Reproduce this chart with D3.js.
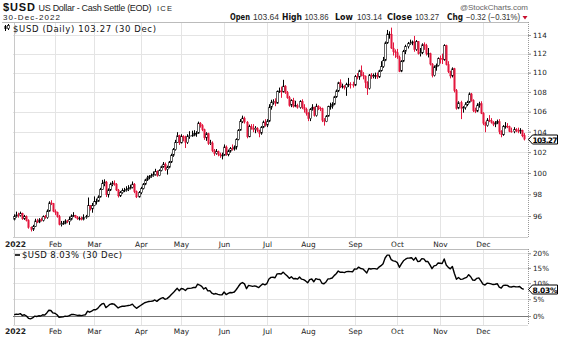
<!DOCTYPE html>
<html><head><meta charset="utf-8">
<script src="https://cdn.jsdelivr.net/npm/d3@7"></script>
<style>body{margin:0;background:#fff}svg{display:block}</style>
</head><body><svg id="c" width="561" height="337"></svg>
<script>
// ---------- DATA ----------
const tradingDays = [
 [3,4,5,6,7,10,11,12,13,14,18,19,20,21,24,25,26,27,28,31],
 [1,2,3,4,7,8,9,10,11,14,15,16,17,18,22,23,24,25,28],
 [1,2,3,4,7,8,9,10,11,14,15,16,17,18,21,22,23,24,25,28,29,30,31],
 [1,4,5,6,7,8,11,12,13,14,18,19,20,21,22,25,26,27,28,29],
 [2,3,4,5,6,9,10,11,12,13,16,17,18,19,20,23,24,25,26,27,31],
 [1,2,3,6,7,8,9,10,13,14,15,16,17,21,22,23,24,27,28,29,30],
 [1,5,6,7,8,11,12,13,14,15,18,19,20,21,22,25,26,27,28,29],
 [1,2,3,4,5,8,9,10,11,12,15,16,17,18,19,22,23,24,25,26,29,30,31],
 [1,2,6,7,8,9,12,13,14,15,16,19,20,21,22,23,26,27,28,29,30],
 [3,4,5,6,7,10,11,12,13,14,17,18,19,20,21,24,25,26,27,28,31],
 [1,2,3,4,7,8,9,10,11,14,15,16,17,18,21,22,23,25,28,29,30],
 [1,2,5,6,7,8,9,12,13,14,15,16,19,20,21,22,23,27,28,29,30]
];
const monthLabels = ["2022","Feb","Mar","Apr","May","Jun","Jul","Aug","Sep","Oct","Nov","Dec"];
const priceTicks = [96,98,100,102,104,106,108,110,112,114];
const pctTicks = [0,5,10,15,20];

const open = [
 95.70,95.95,96.10,96.05,96.25,95.75,95.95,95.60,94.95,94.80,95.05,95.55,95.45,95.65,95.60,95.95,95.85,96.45,97.20,97.15,
 96.45,96.35,95.95,95.25,95.30,95.35,95.55,95.50,95.70,96.00,96.05,95.90,95.75,95.80,95.70,95.85,95.95,96.95,96.65,
 96.95,97.35,97.35,97.75,98.45,99.00,99.15,97.95,98.40,98.90,99.05,98.95,98.40,97.85,98.15,98.35,98.35,98.45,98.55,98.65,98.95,98.25,97.75,
 98.15,98.55,98.95,99.35,99.55,99.70,99.75,99.85,100.15,99.75,100.25,100.60,100.85,100.35,100.55,101.05,101.70,102.25,102.95,103.60,
 102.90,103.55,103.40,102.95,103.55,103.60,103.65,103.85,103.85,104.85,104.60,104.20,103.40,103.80,102.85,102.90,102.15,101.85,102.05,101.80,101.65,
 101.70,102.50,101.75,102.10,102.35,102.30,102.50,103.25,104.15,105.00,105.35,104.95,103.50,104.50,104.35,104.20,104.35,104.15,103.85,104.45,104.95,
 104.65,105.05,106.45,106.95,107.00,106.85,108.05,108.10,108.00,108.60,107.95,107.40,106.65,107.15,106.55,106.60,106.40,107.05,106.40,106.25,
 105.85,105.30,106.25,106.45,105.60,106.55,106.35,106.30,105.15,105.00,105.55,106.50,106.55,106.75,107.50,108.10,108.95,108.55,108.60,108.45,108.75,108.80,108.75,
 108.70,109.60,109.55,110.20,109.75,109.65,109.00,108.35,109.75,109.60,109.70,109.70,109.55,110.20,110.65,111.30,113.15,114.10,114.10,112.60,112.20,
 112.10,111.65,110.15,111.20,112.25,112.75,113.10,113.15,113.25,112.45,113.30,112.00,112.10,112.95,112.85,112.00,112.00,110.90,109.70,110.60,110.75,
 111.50,111.45,111.35,112.85,110.85,110.10,109.65,110.40,108.15,106.35,106.90,106.35,106.40,106.70,106.95,107.80,107.15,106.10,106.05,106.65,106.80,
 105.85,104.85,104.60,105.15,105.10,104.95,104.75,104.85,105.00,104.00,103.70,104.50,104.55,104.50,104.05,104.00,104.20,104.10,104.05,104.15,103.64
];
const high = [
 96.15,96.40,96.30,96.40,96.30,96.10,96.05,95.70,95.05,95.20,95.75,95.75,95.80,95.85,96.05,96.10,96.60,97.35,97.45,97.20,
 96.60,96.40,96.10,95.55,95.55,95.70,95.65,95.95,96.15,96.35,96.10,96.00,95.95,95.95,96.15,96.10,97.70,97.00,97.20,
 97.80,97.60,97.90,98.60,99.35,99.40,99.25,98.55,99.10,99.25,99.30,99.05,98.50,98.30,98.55,98.60,98.75,98.85,98.90,99.20,99.05,98.35,98.30,
 98.70,99.05,99.45,99.75,99.80,99.95,100.15,100.40,100.25,100.35,100.70,101.05,101.00,100.70,101.15,101.85,102.40,103.20,103.95,103.70,
 103.75,103.65,103.60,103.75,104.05,104.10,104.15,104.05,105.00,104.95,104.75,104.30,103.95,103.90,103.20,103.05,102.30,102.30,102.15,101.95,101.95,
 102.75,102.65,102.25,102.50,102.75,102.65,103.35,104.25,105.25,105.60,105.50,105.05,104.70,104.75,104.75,104.55,104.45,104.20,104.55,105.10,105.25,
 105.25,106.75,107.20,107.25,107.35,108.15,108.45,108.55,109.25,108.70,108.10,107.60,107.25,107.40,107.10,106.80,107.15,107.25,106.75,106.40,
 105.95,106.35,106.75,106.50,106.80,106.65,106.50,106.40,105.35,105.65,106.60,106.90,106.95,107.60,108.25,109.05,109.30,108.85,108.70,108.95,109.45,109.00,109.05,
 109.75,109.95,110.30,110.75,110.05,109.70,109.10,109.85,109.95,109.90,110.00,110.00,110.30,111.20,111.65,113.30,114.55,114.40,114.80,113.20,112.45,
 112.50,111.80,111.30,112.40,112.95,113.25,113.50,113.40,113.90,113.45,113.35,112.60,113.10,113.20,113.05,112.60,112.10,111.00,110.75,110.95,111.60,
 111.80,112.00,113.00,112.95,111.20,110.20,110.55,110.50,108.30,107.05,107.10,106.55,106.95,107.10,107.95,107.90,107.25,106.40,106.85,107.00,107.05,
 105.95,105.00,105.35,105.65,105.35,105.05,105.05,105.20,105.25,104.15,104.65,104.95,104.85,104.60,104.40,104.45,104.35,104.40,104.35,104.20,103.86
];
const low = [
 95.60,95.85,95.85,95.95,95.65,95.65,95.50,94.85,94.60,94.65,95.00,95.35,95.35,95.50,95.50,95.75,95.75,96.40,97.00,96.35,
 96.10,95.85,95.15,95.05,95.20,95.25,95.35,95.20,95.60,95.90,95.80,95.65,95.60,95.60,95.60,95.75,95.90,96.50,96.30,
 96.90,97.05,97.30,97.70,98.40,98.75,97.75,97.70,98.30,98.75,98.80,98.30,97.70,97.75,98.05,98.20,98.25,98.30,98.45,98.55,98.10,97.65,97.70,
 98.00,98.45,98.85,99.25,99.40,99.55,99.65,99.75,99.65,99.70,100.15,100.50,100.20,99.85,100.45,100.95,101.55,102.15,102.90,102.70,
 102.85,103.05,102.40,102.80,103.30,103.50,103.55,103.50,103.80,104.40,104.05,103.20,103.10,102.70,102.70,102.00,101.65,101.75,101.60,101.45,101.30,
 101.65,101.65,101.60,101.95,102.15,102.15,102.25,103.15,104.10,104.85,104.80,103.35,103.45,104.20,103.95,103.85,103.95,103.45,103.70,104.35,104.50,
 104.45,104.95,106.20,106.70,106.55,106.80,107.90,107.40,107.95,107.80,107.30,106.50,106.45,106.40,106.45,106.30,106.30,106.25,105.90,105.60,
 105.05,105.05,106.10,105.50,105.50,106.15,106.05,104.95,104.60,104.95,105.50,106.20,106.30,106.65,107.40,108.00,108.40,108.35,108.25,107.60,108.50,108.35,108.45,
 108.60,109.30,109.25,109.60,109.30,108.40,107.70,108.25,109.35,109.40,109.35,109.35,109.45,110.10,110.50,111.20,113.05,113.60,112.50,111.80,111.55,
 111.45,110.05,110.05,111.10,111.95,112.55,112.95,112.90,112.20,112.30,111.90,111.70,111.95,112.40,111.80,111.60,110.75,109.50,109.60,110.20,110.65,
 110.95,110.90,111.25,110.75,109.95,109.40,109.50,107.95,106.20,106.25,105.25,105.90,106.20,106.55,106.85,107.00,105.95,105.85,105.95,106.40,105.75,
 104.65,103.95,104.50,104.95,104.80,104.55,104.45,104.75,103.75,103.45,103.60,104.30,104.35,103.95,103.90,103.85,103.95,103.85,103.80,103.45,103.14
];
const close = [
 95.95,96.10,96.05,96.25,95.75,95.95,95.60,94.95,94.80,95.05,95.55,95.45,95.65,95.60,95.95,95.85,96.45,97.20,97.15,96.45,
 96.35,95.95,95.25,95.30,95.35,95.55,95.50,95.70,96.00,96.05,95.90,95.75,95.80,95.70,95.85,95.95,96.95,96.65,96.95,
 97.35,97.35,97.75,98.45,99.00,99.15,97.95,98.40,98.90,99.05,98.95,98.40,97.85,98.15,98.35,98.35,98.45,98.55,98.65,98.95,98.25,97.75,98.15,
 98.55,98.95,99.35,99.55,99.70,99.75,99.85,100.15,99.75,100.25,100.60,100.85,100.35,100.55,101.05,101.70,102.25,102.95,103.60,102.90,
 103.55,103.40,102.95,103.55,103.60,103.65,103.85,103.85,104.85,104.60,104.20,103.40,103.80,102.85,102.90,102.15,101.85,102.05,101.80,101.65,101.70,
 102.50,101.75,102.10,102.35,102.30,102.50,103.25,104.15,105.00,105.35,104.95,103.50,104.50,104.35,104.20,104.35,104.15,103.85,104.45,104.95,104.65,
 105.05,106.45,106.95,107.00,106.85,108.05,108.10,108.00,108.60,107.95,107.40,106.65,107.15,106.55,106.60,106.40,107.05,106.40,106.25,105.85,
 105.30,106.25,106.45,105.60,106.55,106.35,106.30,105.15,105.00,105.55,106.50,106.55,106.75,107.50,108.10,108.95,108.55,108.60,108.45,108.75,108.80,108.75,108.70,
 109.60,109.55,110.20,109.75,109.65,109.00,108.35,109.75,109.60,109.70,109.70,109.55,110.20,110.65,111.30,113.15,114.10,114.10,112.60,112.20,112.10,
 111.65,110.15,111.20,112.25,112.75,113.10,113.15,113.25,112.45,113.30,112.00,112.10,112.95,112.85,112.00,112.00,110.90,109.70,110.60,110.75,111.50,
 111.45,111.35,112.85,110.85,110.10,109.65,110.40,108.15,106.35,106.90,106.35,106.40,106.70,106.95,107.80,107.15,106.10,106.05,106.65,106.80,105.85,
 104.85,104.60,105.15,105.10,104.95,104.75,104.85,105.00,104.00,103.70,104.50,104.55,104.50,104.05,104.00,104.20,104.10,104.05,104.15,103.59,103.27
];
const pctChange = 8.03;      // bottom-panel legend value
const lastChange = -0.32, lastChangePct = -0.31;

// ---------- LAYOUT ----------
const svg = d3.select("#c");
const FONT = "'DejaVu Sans', Verdana, sans-serif";
const AFONT = "'Liberation Sans', Arial, sans-serif";
const RED = "#e3173e";
const n = close.length;
const dates = [];
tradingDays.forEach((days, m) => days.forEach(d => dates.push(new Date(2022, m, d))));
const monthStarts = dates.map((d, i) => (i === 0 || d.getMonth() !== dates[i - 1].getMonth()) ? i : -1).filter(i => i >= 0);

const P = {left: 13, right: 528, top: 22, bottom: 237};
const B = {left: 13, right: 528, top: 249, bottom: 325};
const x = d3.scaleLinear().domain([0, n - 1]).range([14.2, 523.7]);
const y = d3.scaleLog().domain([96, 114]).range([216, 35]);
const base = close[n - 1] / (1 + pctChange / 100);
const y2 = d3.scaleLog().domain([1, 1.2]).range([316, 253.3]);
const px = i => Math.round(x(i)) + 0.5;

// ---------- HEADER ----------
const hdr = svg.append("g");
hdr.append("text").attr("x", 3).attr("y", 11).attr("font-family", AFONT).attr("font-weight", "bold")
  .attr("font-size", 11).attr("textLength", 32).attr("fill", "#111").text("$USD");
hdr.append("text").attr("x", 38.5).attr("y", 10.8).attr("font-family", AFONT).attr("font-size", 9)
  .attr("textLength", 113).attr("fill", "#222").text("US Dollar - Cash Settle (EOD)");
hdr.append("text").attr("x", 157).attr("y", 10.8).attr("font-family", AFONT).attr("font-size", 7.5)
  .attr("textLength", 15).attr("fill", "#222").text("ICE");
hdr.append("text").attr("x", 3).attr("y", 19.5).attr("font-family", AFONT).attr("font-size", 8)
  .attr("textLength", 57).attr("fill", "#222").text(d3.timeFormat("%d-%b-%Y")(dates[n - 1]));
hdr.append("text").attr("x", 528).attr("y", 9.5).attr("text-anchor", "end").attr("font-family", AFONT)
  .attr("font-size", 8).attr("textLength", 68).attr("fill", "#666").text("@StockCharts.com");

const f2 = d3.format(".2f");
const ohlcItems = [
  ["Open", 230, 20, true], [f2(open[n - 1]), 253, 26, false],
  ["High", 282, 20, true], [f2(high[n - 1]), 304.5, 24, false],
  ["Low", 335, 18, true], [f2(low[n - 1]), 357, 25, false],
  ["Close", 387, 25, true], [f2(close[n - 1]), 415, 24, false],
  ["Chg", 447, 16, true], [f2(lastChange) + " (" + f2(lastChangePct) + "%)", 466, 54, false]
];
ohlcItems.forEach(([t, xx, len, bold]) => {
  hdr.append("text").attr("x", xx).attr("y", 19.5).attr("font-family", bold ? FONT : AFONT)
    .attr("font-weight", bold ? "bold" : "normal").attr("font-size", 8.5)
    .attr("textLength", len).attr("lengthAdjust", "spacingAndGlyphs").attr("fill", bold ? "#111" : "#333").text(t);
});
hdr.append("path").attr("d", "M522.5,16 L527.5,16 L525,19.5 Z").attr("fill", "#c8102e");

// ---------- MAIN PANEL ----------
const g = svg.append("g");
g.selectAll(".hg").data(priceTicks).join("line")
  .attr("x1", P.left).attr("x2", P.right + 3)
  .attr("y1", d => Math.round(y(d)) + 0.5).attr("y2", d => Math.round(y(d)) + 0.5)
  .attr("stroke", "#e4e4e4");
g.selectAll(".vg").data(monthStarts).join("line")
  .attr("x1", i => px(i)).attr("x2", i => px(i)).attr("y1", P.top).attr("y2", P.bottom)
  .attr("stroke", (i, k) => k === 0 ? "#c8c8c8" : "#e4e4e4");
g.append("line").attr("x1", 2).attr("x2", P.right).attr("y1", P.top + 0.5).attr("y2", P.top + 0.5).attr("stroke", "#bbb");
g.append("line").attr("x1", P.left).attr("x2", P.right).attr("y1", P.bottom + 0.5).attr("y2", P.bottom + 0.5).attr("stroke", "#ccc");
g.append("line").attr("x1", P.right + 0.5).attr("x2", P.right + 0.5).attr("y1", P.top).attr("y2", P.bottom)
  .attr("stroke", "#999").attr("stroke-dasharray", "1,1");

const ax = g.append("g").attr("transform", `translate(${P.right},0)`)
  .call(d3.axisRight(y).tickValues(priceTicks).tickFormat(d3.format("d")).tickSize(3).tickPadding(2));
ax.select(".domain").remove();
ax.selectAll("line").attr("stroke", "#999");
ax.selectAll("text").attr("font-family", FONT).attr("font-size", 7.2).attr("fill", "#222");

// candles
const cg = g.append("g");
d3.range(n).forEach(i => {
  const prev = i > 0 ? close[i - 1] : open[0];
  const col = close[i] >= prev ? "#000" : RED;
  const hollow = close[i] > open[i];
  const cx = px(i);
  cg.append("line").attr("x1", cx).attr("x2", cx)
    .attr("y1", y(Math.max(high[i], open[i], close[i]))).attr("y2", y(Math.min(low[i], open[i], close[i])))
    .attr("stroke", col).attr("stroke-width", 1);
  const top = y(Math.max(open[i], close[i])), bot = y(Math.min(open[i], close[i]));
  cg.append("rect").attr("x", cx - 0.8).attr("width", 1.6)
    .attr("y", top).attr("height", Math.max(0.8, bot - top))
    .attr("fill", hollow ? "#fff" : col).attr("stroke", col).attr("stroke-width", hollow ? 0.6 : 0.3);
});

// legend
const lg = g.append("g");
lg.append("path").attr("d", "M5.5,25 V31 M8.5,24 V30").attr("stroke", "#000").attr("stroke-width", 1);
lg.append("rect").attr("x", 4.5).attr("y", 26).attr("width", 2).attr("height", 3).attr("fill", "#000");
lg.append("rect").attr("x", 7.5).attr("y", 25.5).attr("width", 2).attr("height", 3).attr("fill", "#fff").attr("stroke", "#000").attr("stroke-width", 0.6);
lg.append("text").attr("x", 13).attr("y", 31.5).attr("font-family", FONT).attr("font-size", 8.5)
  .attr("textLength", 143).attr("fill", "#111")
  .text(`$USD (Daily) ${f2(close[n - 1])} (${d3.timeFormat("%d %b")(dates[n - 1])})`);

function tag(cy, label) {
  const t = svg.append("g");
  t.append("path").attr("d", `M${P.right + 0.5},${cy} L${P.right + 4.5},${cy - 4.5} L557.5,${cy - 4.5} L557.5,${cy + 4.5} L${P.right + 4.5},${cy + 4.5} Z`)
    .attr("fill", "#fff").attr("stroke", "#000").attr("stroke-width", 1);
  t.append("text").attr("x", 545).attr("y", cy + 3).attr("text-anchor", "middle").attr("font-family", FONT)
    .attr("font-weight", "bold").attr("font-size", 7.5).attr("textLength", 25).attr("fill", "#000").text(label);
}
tag(Math.round(y(close[n - 1])) + 0.5, f2(close[n - 1]));

function monthAxis(yy) {
  svg.append("g").selectAll("text").data(monthStarts).join("text")
    .attr("x", i => px(i) + (i === 0 ? 1 : 0)).attr("y", yy).attr("text-anchor", "middle")
    .attr("font-family", FONT).attr("font-size", (d, k) => k === 0 ? 7.6 : 7.4)
    .attr("font-weight", (d, k) => k === 0 ? "bold" : "normal").attr("fill", "#222")
    .text((d, k) => monthLabels[k]);
}
monthAxis(246.5);
monthAxis(333.5);

// ---------- BOTTOM PANEL ----------
const b = svg.append("g");
b.selectAll(".hg").data(pctTicks.filter(d => d > 0)).join("line")
  .attr("x1", B.left).attr("x2", B.right + 3)
  .attr("y1", d => Math.round(y2(1 + d / 100)) + 0.5).attr("y2", d => Math.round(y2(1 + d / 100)) + 0.5)
  .attr("stroke", "#e4e4e4");
b.selectAll(".vg").data(monthStarts).join("line")
  .attr("x1", i => px(i)).attr("x2", i => px(i)).attr("y1", B.top).attr("y2", B.bottom)
  .attr("stroke", (i, k) => k === 0 ? "#c8c8c8" : "#e4e4e4");
b.append("line").attr("x1", B.left).attr("x2", B.right).attr("y1", B.top + 0.5).attr("y2", B.top + 0.5).attr("stroke", "#bbb");
b.append("line").attr("x1", B.left).attr("x2", B.right).attr("y1", B.bottom + 0.5).attr("y2", B.bottom + 0.5).attr("stroke", "#ddd");
b.append("line").attr("x1", B.right + 0.5).attr("x2", B.right + 0.5).attr("y1", B.top).attr("y2", B.bottom)
  .attr("stroke", "#999").attr("stroke-dasharray", "1,1");
b.append("line").attr("x1", B.left).attr("x2", B.right + 3)
  .attr("y1", Math.round(y2(1)) + 0.5).attr("y2", Math.round(y2(1)) + 0.5).attr("stroke", "#777");

const ax2 = b.append("g").attr("transform", `translate(${B.right},0)`)
  .call(d3.axisRight(y2).tickValues(pctTicks.map(d => 1 + d / 100)).tickFormat((d, k) => pctTicks[k] + "%").tickSize(3).tickPadding(2));
ax2.select(".domain").remove();
ax2.selectAll("line").attr("stroke", "#999");
ax2.selectAll("text").attr("font-family", FONT).attr("font-size", 7.2).attr("fill", "#222");

b.append("path").datum(close)
  .attr("d", d3.line().x((d, i) => x(i)).y(d => y2(d / base)))
  .attr("fill", "none").attr("stroke", "#000").attr("stroke-width", 1.4).attr("stroke-linejoin", "round");

b.append("line").attr("x1", 15).attr("x2", 20).attr("y1", 255).attr("y2", 255).attr("stroke", "#000").attr("stroke-width", 1.6);
b.append("text").attr("x", 22).attr("y", 257.8).attr("font-family", FONT).attr("font-size", 8.5)
  .attr("textLength", 100).attr("fill", "#111")
  .text(`$USD ${f2(pctChange)}% (${d3.timeFormat("%d %b")(dates[n - 1])})`);

tag(Math.round(y2(close[n - 1] / base)) + 0.5, f2(pctChange) + "%");
</script></body></html>
